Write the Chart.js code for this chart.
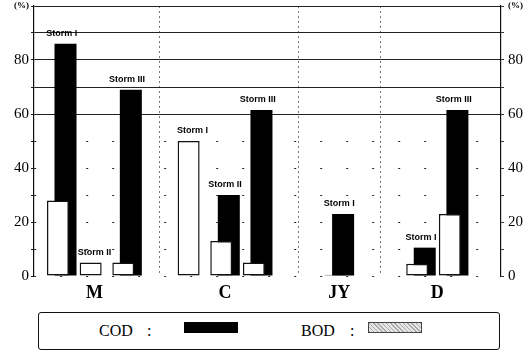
<!DOCTYPE html>
<html>
<head>
<meta charset="utf-8">
<script src="https://cdn.jsdelivr.net/npm/chart.js@4/dist/chart.umd.min.js"></script>
<style>
    html, body { margin: 0; padding: 0; background: #fff; }
    #wrap { position: relative; width: 530px; height: 353px; }
    #chart-box { position: absolute; left: 0; top: 0; width: 530px; height: 308px; }
    #legend {
        position: absolute; left: 38px; top: 312px; width: 462px; height: 38px;
        box-sizing: border-box; border: 1.5px solid #111; border-radius: 3px;
        font-family: "Liberation Serif", "DejaVu Serif", serif; font-size: 16px; color: #000;
    }
    #legend span { position: absolute; top: 8px; line-height: 20px; }
    #legend .swatch { position: absolute; top: 9px; width: 54px; height: 11px; box-sizing: border-box; }
</style>
</head>
<body>
<div id="wrap">
    <div id="chart-box"><canvas id="storm-chart"></canvas></div>
    <div id="legend"></div>
</div>
<script>
// slot list along the x axis, blank entries are gaps between the sites
const slots = ['M', '', 'M', '', 'M', '', '', '', 'C', '', 'C', '', 'C', '', '', '', '', 'JY', '', '', '', '', 'D', '', 'D'];
const groups = ['M', 'C', 'JY', 'D'];
const stormNames = ['Storm I', 'Storm II', 'Storm III', 'Storm I', 'Storm II', 'Storm III', 'Storm I', 'Storm I', 'Storm III'];
const codValues = [86, null, 69, null, 30, 61.5, 23, 10.5, 61.5];
const bodValues = [28, 5, 5, 50, 13, 5, 0.5, 4.5, 23];
const yTickLabels = [0, 20, 40, 60, 80];

const stormSlots = slots.map((g, i) => g ? i : -1).filter(i => i >= 0);
const groupSlots = groups.map(g => stormSlots.filter(i => slots[i] === g));
const groupCenters = groupSlots.map(s => (s[0] + s[s.length - 1]) / 2);
const separators = groupSlots.slice(1).map((s, k) => {
    const prev = groupSlots[k];
    return (prev[prev.length - 1] + s[0]) / 2;
});

const serif = '"Liberation Serif", "DejaVu Serif", serif';

const stormLabels = {
    id: 'stormLabels',
    afterDatasetsDraw(chart) {
        const { ctx } = chart;
        const xScale = chart.scales.x;
        const yScale = chart.scales.y;
        ctx.save();
        ctx.font = 'bold 9px "Liberation Sans", Arial, sans-serif';
        ctx.textAlign = 'center';
        ctx.textBaseline = 'middle';
        ctx.fillStyle = '#000';
        stormNames.forEach((name, i) => {
            const top = Math.max(codValues[i] || 0, bodValues[i] || 0);
            const x = xScale.getPixelForValue(stormSlots[i]);
            ctx.fillText(name, x, yScale.getPixelForValue(top) - 10);
        });
        ctx.restore();
    }
};

const yTick = v => v === 100 ? '(%)' : (yTickLabels.includes(v) ? String(v) : '');
const tickFont = ctx => (ctx.tick && ctx.tick.value === 100)
    ? { family: serif, size: 9, weight: 'bold' }
    : { family: serif, size: 15 };
const fitY = width => scale => {
    scale.width = width;
    scale.paddingTop = 0;
    scale.paddingBottom = 0;
};

const chart = new Chart(document.getElementById('storm-chart'), {
    type: 'bar',
    data: {
        datasets: [
            {
                label: 'BOD',
                data: stormSlots.map((p, i) => ({ x: p, y: bodValues[i] })),
                backgroundColor: '#fff',
                borderColor: '#111',
                borderWidth: 1.5,
                borderSkipped: false,
                legendSwatch: 'repeating-linear-gradient(45deg, #aaa 0 1px, #e6e6e6 1px 3px)'
            },
            {
                label: 'COD',
                data: stormSlots.map((p, i) => ({ x: p, y: codValues[i] })),
                backgroundColor: '#000',
                borderWidth: 0,
                legendSwatch: '#000'
            }
        ]
    },
    options: {
        responsive: true,
        maintainAspectRatio: false,
        animation: false,
        categoryPercentage: 0.46,
        barPercentage: 2.93,
        layout: { padding: { top: 6, left: 0, right: 0, bottom: 0 } },
        plugins: {
            legend: { display: false },
            tooltip: { enabled: false }
        },
        scales: {
            x: {
                type: 'linear',
                offset: false,
                min: -1.7,
                max: 26.9,
                afterBuildTicks: scale => {
                    scale.ticks = groupCenters.concat(separators)
                        .sort((a, b) => a - b)
                        .map(v => ({ value: v }));
                },
                afterFit: scale => { scale.height = 32; },
                ticks: {
                    autoSkip: false,
                    maxRotation: 0,
                    padding: 7,
                    color: '#000',
                    font: { family: serif, size: 18, weight: 'bold' },
                    callback: v => {
                        const g = groupCenters.indexOf(v);
                        return g >= 0 ? groups[g] : '';
                    }
                },
                grid: {
                    offset: false,
                    drawTicks: false,
                    color: ctx => (ctx.tick && separators.includes(ctx.tick.value)) ? '#777' : 'rgba(0,0,0,0)',
                    lineWidth: 1
                },
                border: { display: false, dash: [2, 3] }
            },
            y: {
                position: 'left',
                min: 0,
                max: 100,
                afterFit: fitY(34),
                ticks: { stepSize: 10, padding: 2, color: '#000', font: tickFont, callback: yTick },
                grid: {
                    color: '#222',
                    lineWidth: 1,
                    tickLength: 3
                },
                border: {
                    display: true,
                    color: '#111',
                    width: 1.2,
                    dash: ctx => (ctx.tick && ctx.tick.value < 60) ? [2, 24] : []
                }
            },
            y2: {
                position: 'right',
                min: 0,
                max: 100,
                afterFit: fitY(29),
                ticks: { stepSize: 10, padding: 4, color: '#000', font: tickFont, callback: yTick },
                grid: { drawOnChartArea: false, tickLength: 3, color: '#333' },
                border: { display: true, color: '#111', width: 1.2 }
            }
        }
    },
    plugins: [stormLabels]
});

// html legend: "COD : [box]   BOD : [box]"
const legendSpots = [
    { text: 60, colon: 108, box: 145 },
    { text: 262, colon: 311, box: 329 }
];
const legend = document.getElementById('legend');
chart.data.datasets.slice().reverse().forEach((ds, k) => {
    const spot = legendSpots[k];
    legend.insertAdjacentHTML('beforeend',
        `<span style="left:${spot.text}px">${ds.label}</span>` +
        `<span style="left:${spot.colon}px">:</span>` +
        `<div class="swatch" style="left:${spot.box}px;background:${ds.legendSwatch};` +
        `border:1px solid ${ds.label === 'COD' ? '#000' : '#444'}"></div>`);
});
</script>
</body>
</html>
